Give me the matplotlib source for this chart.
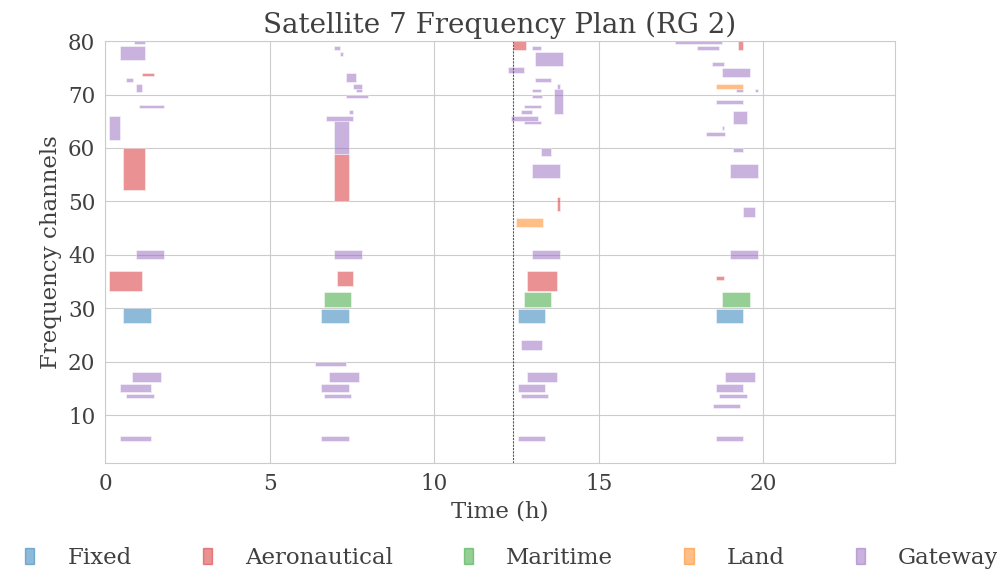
import matplotlib
matplotlib.use("Agg")
import matplotlib.pyplot as plt
import seaborn as sns
from matplotlib.patches import Patch

# each entry: (start h, end h, lowest channel, highest channel)
fixed = [
    (0.55, 1.40, 27.3, 30.0),
    (6.57, 7.41, 27.3, 29.9),
    (12.54, 13.38, 27.3, 29.9),
    (18.55, 19.39, 27.3, 29.9),
]
aeronautical = [
    (0.55, 1.21, 52.1, 60.0),
    (1.13, 1.48, 73.4, 74.1),
    (0.11, 1.13, 33.3, 37.0),
    (6.97, 7.41, 50.0, 58.9),
    (7.05, 7.54, 34.1, 37.0),
    (12.40, 12.80, 78.3, 80.5),
    (13.74, 13.83, 48.2, 50.9),
    (12.81, 13.73, 33.3, 37.0),
    (19.22, 19.39, 78.3, 80.5),
    (18.55, 18.82, 35.3, 36.0),
]
maritime = [
    (6.65, 7.46, 30.3, 33.0),
    (12.72, 13.56, 30.3, 33.0),
    (18.73, 19.58, 30.3, 33.0),
]
land = [
    (12.50, 13.30, 45.2, 46.9),
    (18.55, 19.39, 71.1, 72.0),
]
gateway = [
    (0.87, 1.21, 79.4, 80.5), (0.47, 1.21, 76.4, 79.1), (0.64, 0.86, 72.3, 73.1),
    (0.95, 1.13, 70.4, 71.9), (1.03, 1.78, 67.4, 68.1), (0.11, 0.47, 61.4, 65.9),
    (0.95, 1.78, 39.3, 40.8), (0.81, 1.70, 16.1, 18.0), (0.47, 1.40, 14.3, 15.8),
    (0.64, 1.48, 13.1, 13.9), (0.47, 1.40, 5.1, 6.0),
    (6.97, 7.14, 78.3, 79.0), (7.14, 7.23, 77.2, 78.0), (7.31, 7.64, 72.3, 74.1),
    (7.54, 7.81, 71.1, 71.9), (7.64, 7.81, 70.4, 71.1), (7.31, 7.99, 69.3, 70.0),
    (7.41, 7.54, 66.3, 67.1), (6.70, 7.54, 65.1, 66.0), (6.97, 7.41, 58.9, 65.1),
    (6.97, 7.81, 39.3, 40.8), (6.39, 7.32, 19.1, 19.9), (6.80, 7.72, 16.1, 18.0),
    (6.57, 7.41, 14.3, 15.8), (6.65, 7.46, 13.1, 13.9), (6.57, 7.41, 5.1, 6.0),
    (12.98, 13.26, 78.3, 79.0), (13.07, 13.91, 75.3, 78.0), (12.23, 12.72, 74.1, 75.1),
    (13.07, 13.56, 72.3, 73.1), (13.74, 13.83, 71.1, 71.9), (13.65, 13.91, 66.3, 71.1),
    (12.98, 13.26, 70.4, 71.1), (12.98, 13.29, 69.3, 70.0), (12.72, 13.26, 67.4, 68.1),
    (12.63, 12.98, 66.3, 67.1), (12.32, 13.16, 65.1, 65.9), (12.72, 13.26, 64.4, 65.1),
    (13.26, 13.56, 58.4, 60.0), (12.98, 13.83, 54.3, 57.0), (12.98, 13.83, 39.3, 40.8),
    (12.63, 13.29, 22.1, 24.0), (12.81, 13.73, 16.1, 18.0), (12.54, 13.38, 14.3, 15.8),
    (12.63, 13.47, 13.1, 13.9), (12.54, 13.38, 5.1, 6.0),
    (17.33, 18.73, 79.4, 80.5), (17.98, 18.64, 78.3, 79.0), (18.43, 18.82, 75.3, 76.0),
    (18.73, 19.58, 73.3, 75.0), (19.18, 19.39, 70.4, 71.1), (19.75, 19.84, 70.4, 71.1),
    (18.55, 19.39, 68.2, 68.9), (19.09, 19.49, 64.4, 67.0), (18.73, 18.82, 63.3, 64.1),
    (18.25, 18.83, 62.2, 62.9), (19.09, 19.39, 59.2, 60.0), (19.00, 19.84, 54.3, 57.0),
    (19.39, 19.75, 47.1, 49.0), (19.00, 19.84, 39.3, 40.8), (18.83, 19.75, 16.1, 18.0),
    (18.55, 19.39, 14.3, 15.8), (18.64, 19.49, 13.1, 13.9), (18.47, 19.30, 11.3, 12.0),
    (18.55, 19.39, 5.1, 6.0),
]
current_time = 12.4

services = ["Fixed", "Aeronautical", "Maritime", "Land", "Gateway"]
blocks = [fixed, aeronautical, maritime, land, gateway]
colors = ["tab:blue", "tab:red", "tab:green", "tab:orange", "tab:purple"]

sns.set_style("whitegrid")
plt.rcParams["font.family"] = ["DejaVu Serif"]
txt = "0.25"

fig = plt.figure(figsize=(9.97, 5.71), dpi=100)
ax = fig.add_axes([0.1053, 0.189, 0.7924, 0.739])

for name, rects, c in zip(services, blocks, colors):
    for t0, t1, lo, hi in rects:
        ax.bar(t0, hi - lo, width=t1 - t0, bottom=lo, align="edge",
               color=c, alpha=0.5, edgecolor="white", linewidth=0.6)

ax.axvline(current_time, color="0.35", linestyle="--", linewidth=0.8, dashes=(2, 1))

ax.set_xlim(0, 24)
ax.set_ylim(1, 80)
ax.set_xticks([0, 5, 10, 15, 20])
ax.set_yticks(range(10, 81, 10))
ax.tick_params(labelsize=15.5, colors=txt)
ax.set_xlabel("Time (h)", fontsize=16.5, color=txt)
ax.set_ylabel("Frequency channels", fontsize=16.5, color=txt)
ax.set_title("Satellite 7 Frequency Plan (RG 2)", fontsize=20, color=txt)

handles = [Patch(facecolor=c, alpha=0.5, edgecolor=c) for c in colors]
ax.legend(handles, services, loc="upper center", bbox_to_anchor=(0.515, -0.15),
          ncol=5, frameon=False, fontsize=16.5, handlelength=0.4, handleheight=0.7,
          handletextpad=1.45, columnspacing=3.1, labelcolor=txt)

fig.savefig("out.png", dpi=100)
